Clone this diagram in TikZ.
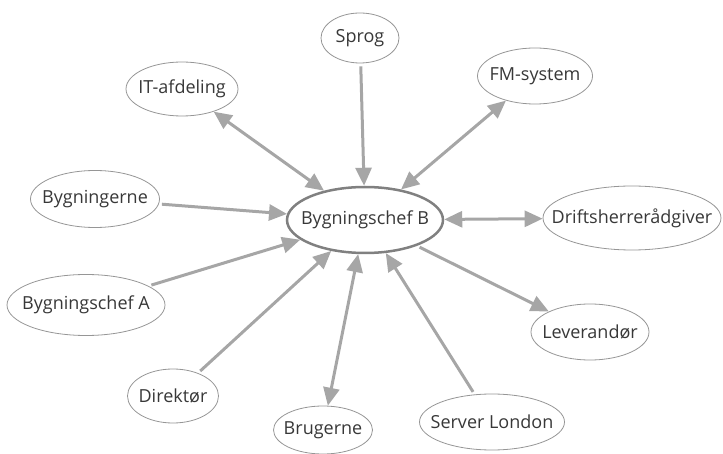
\documentclass[tikz,border=0pt]{standalone}
\usepackage{fontspec}
\setmainfont{Open Sans}
\usetikzlibrary{shapes.geometric,arrows.meta}

\begin{document}
\begin{tikzpicture}[x=1pt,y=-1pt,
  actor/.style={ellipse,draw=bordercolor,line width=0.8pt,fill=white,
    inner xsep=-30pt,inner ysep=-10pt,text=textcolor,
    font=\fontsize{18}{21}\selectfont},
  link/.style={draw=linkcolor,line width=3pt,shorten <=3pt,
    -{Triangle[length=18pt,width=16pt]}},
  twoway/.style={link,shorten >=0pt,shorten <=0pt,
    {Triangle[length=18pt,width=16pt]}-{Triangle[length=18pt,width=16pt]}}]
  % Define colors
  \definecolor{bordercolor}{RGB}{150,150,150}
  \definecolor{centercolor}{RGB}{128,128,128}
  \definecolor{linkcolor}{RGB}{166,166,166}
  \definecolor{textcolor}{RGB}{56,56,56}

  \useasboundingbox (0,0) rectangle (723,454);

  % Central node
  \node[actor,draw=centercolor,line width=2.5pt,minimum width=156pt,minimum height=66pt] (chefB) at (365,220) {Bygningschef B};

  % Surrounding nodes
  \node[actor,minimum width=78pt,minimum height=50pt] (sprog) at (360,38) {Sprog};
  \node[actor,minimum width=112pt,minimum height=54pt] (itafd) at (182,89) {IT-afdeling};
  \node[actor,minimum width=115pt,minimum height=56pt] (fmsys) at (535,76) {FM-system};
  \node[actor,minimum width=178pt,minimum height=64pt] (drift) at (632,218) {Driftsherrerådgiver};
  \node[actor,minimum width=129pt,minimum height=57pt] (bygn) at (95,199) {Bygningerne};
  \node[actor,minimum width=158pt,minimum height=61pt] (chefA) at (86,305) {Bygningschef A};
  \node[actor,minimum width=91pt,minimum height=54pt] (direk) at (173,396) {Direktør};
  \node[actor,minimum width=99pt,minimum height=48pt] (bruger) at (323,430) {Brugerne};
  \node[actor,minimum width=145pt,minimum height=56pt] (server) at (492,422) {Server London};
  \node[actor,minimum width=118pt,minimum height=56pt] (lever) at (590,332) {Leverandør};

  % Connections into the central node
  \foreach \src in {sprog,bygn,chefA,direk,server} {
    \draw[link] (\src) -- (chefB);
  }

  % Connections both ways
  \foreach \dst in {itafd,fmsys,drift,bruger} {
    \draw[twoway] (chefB) -- (\dst);
  }

  % Connection out of the central node
  \draw[link] (chefB) -- (lever);

\end{tikzpicture}
\end{document}
